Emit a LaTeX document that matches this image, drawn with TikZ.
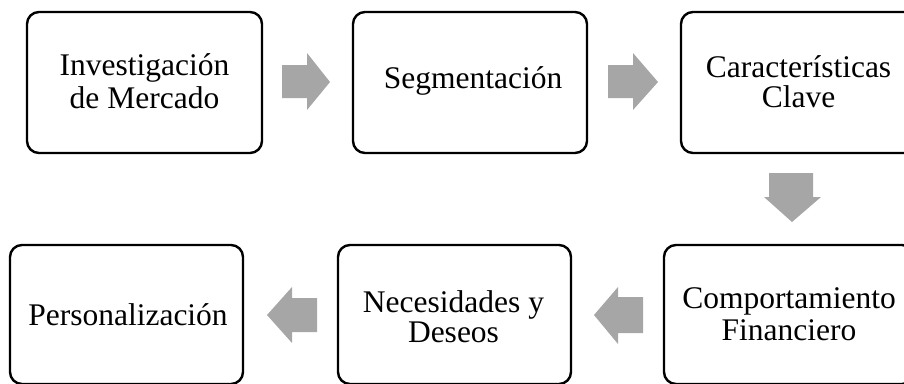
\documentclass[tikz,border=0pt]{standalone}
\usepackage{fontspec}
\setmainfont{Liberation Serif}
\definecolor{arrowgray}{HTML}{A6A6A6}
\begin{document}
\begin{tikzpicture}[x=1pt,y=-1pt,
  stepbox/.style={draw=black,line width=2.4pt,rounded corners=12pt,fill=white},
  lbl/.style={anchor=base,inner sep=0pt,font=\fontsize{31.5}{32}\selectfont},
  blockarrow/.style={fill=arrowgray,draw=none}]
\useasboundingbox (0,0) rectangle (904,383);
% boxes
\draw[stepbox] (27,12) rectangle (262,153);
\draw[stepbox] (353,12) rectangle (587,153);
\draw[stepbox] (681,12) rectangle (916,153);
\draw[stepbox] (10,245) rectangle (243,384);
\draw[stepbox] (338,245) rectangle (571,384);
\draw[stepbox] (664,245) rectangle (914,384);
% box anchors (named)
\coordinate (b1) at (144.5,82.5);
\coordinate (b2) at (470,82.5);
\coordinate (b3) at (798.5,82.5);
\coordinate (b4) at (126.5,314);
\coordinate (b5) at (454.5,314);
\coordinate (b6) at (789,314);
% texts
\node[lbl] (t1a) at (144.5,75) {Investigación};
\node[lbl] (t1b) at (144.5,108) {de Mercado};
\node[lbl] (t2) at (473,88) {Segmentación};
\node[lbl] (t3a) at (798.5,77) {Características};
\node[lbl] (t3b) at (798.5,107) {Clave};
\node[lbl] (t4) at (128,325) {Personalización};
\node[lbl] (t5a) at (453.5,312) {Necesidades y};
\node[lbl] (t5b) at (453.5,342) {Deseos};
\node[lbl] (t6a) at (789,308) {Comportamiento};
\node[lbl] (t6b) at (789,340) {Financiero};
% block arrows
\fill[blockarrow] (282,65) -- (307,65) -- (307,53) -- (330,82) -- (307,110) -- (307,98) -- (282,98) -- cycle;
\fill[blockarrow] (608,65) -- (633,65) -- (633,53) -- (658,82) -- (633,110) -- (633,98) -- (608,98) -- cycle;
\fill[blockarrow] (769,173) -- (813,173) -- (813,197) -- (821,197) -- (792,222) -- (764,197) -- (769,197) -- cycle;
\fill[blockarrow] (643,297) -- (618,297) -- (618,287) -- (594,315) -- (618,344) -- (618,333) -- (643,333) -- cycle;
\fill[blockarrow] (317,298) -- (292,298) -- (292,287) -- (267,315) -- (292,343) -- (292,332) -- (317,332) -- cycle;
\end{tikzpicture}
\end{document}
